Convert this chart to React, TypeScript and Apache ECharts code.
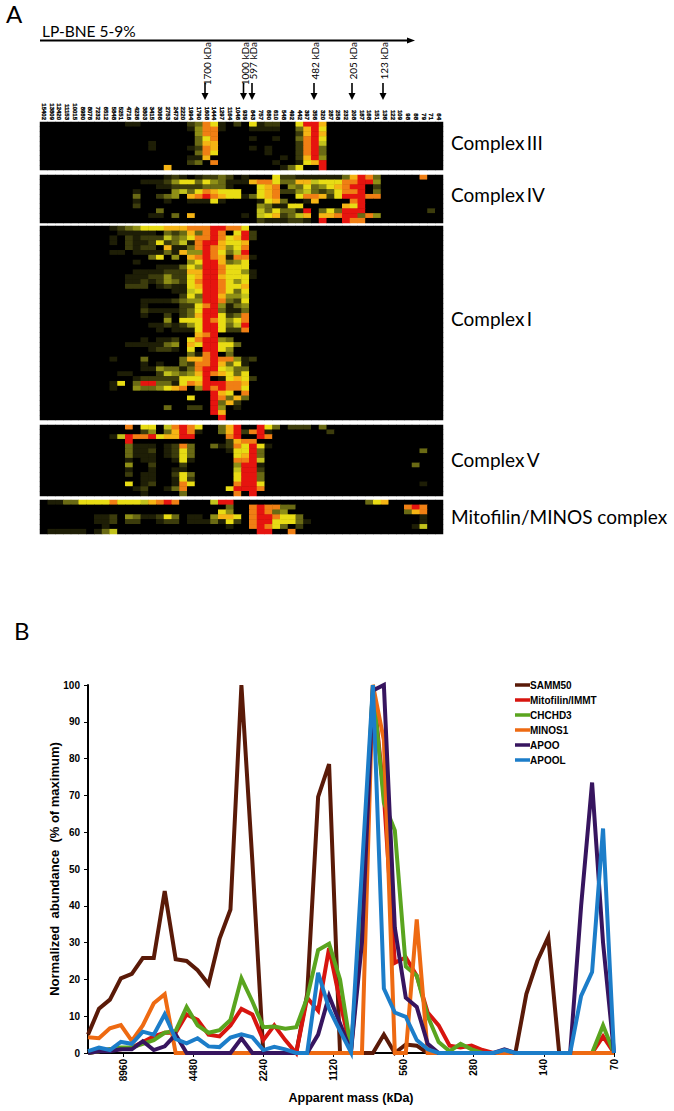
import React, { useEffect, useRef } from "react";
import * as echarts from "echarts";

const massColumns = ["15402","13809","12420","11153","10015","8980","8076","7232","6512","5848","5251","4716","4236","3803","3415","3066","2753","2473","2220","1994","1790","1608","1444","1297","1164","1046","939","843","757","680","610","548","492","442","397","356","320","287","258","232","208","187","168","151","136","122","109","98","88","79","71","64"];

// Heat levels 0-9 per row, written as "column:level" (unlisted cells are 0)
const complexIII = [
  "11:1 12:1 19:2 20:3 21:8 22:6 23:1 25:2 27:6 28:1 29:2 30:2 33:6 34:9 35:9 36:7",
  "19:1 20:4 21:8 22:8 23:1 27:1 28:1 29:1 30:1 33:3 34:7 35:9 36:6",
  "20:4 21:8 22:8 33:2 34:7 35:9 36:7",
  "20:3 21:6 22:8 27:1 30:1 33:3 34:8 35:9 36:6",
  "14:1 20:3 21:7 22:7 33:2 34:8 35:9 36:5",
  "14:1 19:1 20:2 21:8 22:7 27:1 29:1 33:2 34:8 35:9 36:3",
  "20:3 21:8 22:6 29:1 33:2 34:8 35:9 36:3",
  "19:1 20:1 21:7 31:1 33:2 34:7 35:9 36:4",
  "19:2 20:3 22:8 30:1 33:1 34:6 35:7 36:9",
  "16:7 31:1 32:3 33:6 36:9",
];
const complexIV = [
  "16:1 17:2 18:1 20:1 21:2 22:2 23:3 24:2 26:1 30:6 31:2 32:2 33:1 34:1 35:1 36:1 37:1 38:1 39:3 40:7 41:9 42:8 43:3 49:8",
  "13:1 14:1 15:1 16:2 17:4 18:6 19:6 20:3 21:6 22:4 23:3 24:1 25:1 26:1 27:7 28:8 29:8 30:6 31:3 32:3 33:7 34:7 35:5 36:6 37:6 38:6 39:8 40:8 41:9 42:9 43:4",
  "15:1 16:1 17:2 18:2 19:2 20:2 21:3 22:3 23:3 24:1 28:6 29:7 30:8 32:4 33:3 34:6 35:3 36:4 37:6 38:7 39:8 40:9 41:9 43:2",
  "12:1 17:4 18:5 19:3 20:6 21:8 22:7 23:6 24:6 25:6 28:6 29:7 30:8 31:2 32:2 33:4 34:5 35:3 36:2 37:3 38:6 39:8 40:8 41:9 43:3",
  "12:3 15:2 16:3 17:4 19:7 20:8 21:9 22:8 23:7 24:6 25:6 26:1 27:3 28:6 29:7 30:8 33:6 34:8 35:8 36:7 37:2 38:6 39:9 40:9 41:9 42:8 43:8",
  "12:1 16:1 19:1 20:1 21:1 22:6 23:1 28:1 29:6 30:7 31:3 34:1 35:7 40:8 41:9",
  "12:2 28:4 29:3 30:1 31:1 32:6 33:6 39:7 40:6 41:9",
  "15:3 28:5 29:3 30:6 31:3 32:3 33:1 34:9 36:3 37:6 38:3 39:9 40:9 41:9 50:2",
  "14:1 15:1 17:3 19:7 26:1 28:5 29:6 30:7 31:2 32:3 33:5 34:7 36:7 37:7 38:8 39:9 40:9 41:3 42:8 43:4",
  "28:2 29:1 30:1 31:1 32:2 33:2 34:1 36:9 39:9 40:8 41:8",
];
const complexI = [
  "9:1 10:2 11:3 12:4 13:6 14:6 15:6 16:7 17:7 18:7 19:8 20:8 21:8 22:9 23:9 24:8 25:8 26:6",
  "10:1 11:1 12:1 13:1 14:1 16:3 17:2 18:3 19:7 20:3 21:8 22:9 23:8 25:6 26:9 27:2",
  "9:1 11:2 12:1 13:2 14:2 15:2 16:5 17:3 18:4 19:6 20:8 21:8 22:9 23:8 24:6 25:7 26:9 27:2",
  "9:1 11:2 12:1 13:1 14:2 15:6 16:2 17:3 18:5 19:1 20:8 21:9 22:9 23:7 24:6 25:6 26:7",
  "11:2 12:1 13:2 14:2 16:7 17:1 18:1 19:3 20:8 21:9 22:8 23:7 24:4 25:6 26:8",
  "9:1 10:1 12:1 13:1 14:1 15:1 16:3 17:1 18:7 19:4 20:4 21:9 22:8 23:6 24:3 25:5 26:9",
  "14:3 15:6 17:4 19:7 20:8 21:9 22:8 23:7 24:1 25:8 26:8 27:1",
  "12:1 19:4 20:6 21:9 22:9 23:7 24:3 25:4 26:6",
  "15:1 16:1 17:1 18:3 19:6 20:4 21:9 22:9 23:8 24:6 25:6 26:6",
  "12:1 13:1 14:1 15:1 16:2 17:2 18:2 19:7 20:7 21:9 22:9 23:8 24:6 25:6 26:4 27:1",
  "11:1 12:1 13:1 14:2 15:2 16:4 17:2 18:2 19:6 20:7 21:9 22:9 23:7 24:6 25:6 26:6 27:1",
  "11:1 12:1 13:2 14:1 15:2 16:4 17:3 18:2 19:6 20:8 21:9 22:9 23:8 24:6 25:4 26:6",
  "11:2 12:2 13:2 15:1 16:2 17:1 18:1 19:6 20:7 21:9 22:9 23:8 24:6 25:6 26:7",
  "17:1 18:1 19:5 20:6 21:9 22:9 23:8 24:6 25:3 26:6",
  "18:2 19:6 20:3 21:9 22:9 23:7 24:4 25:4 26:5",
  "13:1 14:1 15:1 16:1 17:2 18:3 19:4 20:4 21:9 22:9 23:8 24:3 25:2 26:6",
  "13:1 18:2 19:2 20:6 21:8 22:9 23:4 24:1 25:3 26:4",
  "13:2 14:1 15:1 16:1 17:1 18:2 19:3 20:6 21:9 22:9 23:3 24:1 25:1 26:3",
  "13:1 16:2 18:2 19:3 20:7 21:9 22:9 23:6 24:2 25:3 26:8",
  "16:4 18:6 19:6 20:6 21:9 22:8 23:6 24:4 25:6 26:8",
  "14:1 15:1 16:2 17:1 18:2 19:4 20:6 21:9 22:9 23:6 24:3 25:5 26:9",
  "15:1 17:1 18:1 19:1 20:6 21:9 22:9 23:6 24:2 25:2 26:8",
  "20:7 21:8 22:9",
  "13:1 15:1 16:1 17:2 19:6 20:8 21:9 22:9 23:4 24:3",
  "11:1 12:1 13:1 14:1 15:1 16:3 17:4 19:7 20:6 21:9 22:9 23:6 24:6 25:3",
  "14:1 15:2 16:2 17:1 19:6 21:9 22:9 23:6 24:4",
  "19:3 20:1 21:8 22:9 24:3",
  "9:1 13:3 18:3 19:7 20:7 21:8 22:9 23:8 24:8 25:4 26:1 27:2",
  "13:1 15:1 18:3 19:2 20:8 21:8 22:9 23:7 24:3 25:6 26:1",
  "13:1 14:1 15:4 16:3 17:3 18:1 19:3 20:8 21:9 22:9 23:6 24:5 25:3 26:3",
  "10:1 11:1 15:2 16:5 17:4 18:3 19:4 20:7 21:9 22:8 23:7 24:6 25:3 26:6",
  "12:1 13:2 14:2 15:2 16:2 17:2 18:6 19:6 20:6 21:9 23:1 24:6 25:7 26:6 27:2",
  "9:1 10:6 12:3 13:9 14:9 15:3 16:3 17:1 18:6 19:8 20:7 21:9 22:9 23:9 24:8 25:8 26:7",
  "9:1 12:4 13:3 14:3 15:4 16:6 17:7 18:8 20:4 21:9 22:8 23:9 24:8 25:8 26:6",
  "22:9 23:7 24:6 26:8",
  "19:6 22:9 23:8 24:3 25:7 26:3",
  "22:9 23:3 24:7 25:2",
  "16:3 19:2 20:2 22:9 23:4 25:1",
  "22:9 23:7",
  "23:9",
];
const complexV = [
  "11:8 13:6 14:6 16:5 17:8 18:9 19:8 20:6 23:3 24:7 25:9 28:9 29:6 30:3 32:2 33:2 34:2 36:3",
  "13:2 14:4 16:3 17:7 18:9 19:8 20:1 23:3 24:7 25:9 26:2 27:8 28:9 29:1 37:2",
  "9:1 10:5 11:9 12:8 13:8 14:9 15:6 16:7 17:7 18:9 19:9 24:8 25:9 28:9 29:8",
  "11:9 24:2 25:7 26:8 27:8",
  "11:3 12:1 13:1 14:1 16:1 17:2 18:8 19:3 22:3 23:1 24:2 25:8 26:6 27:9 28:6 29:1",
  "11:3 12:1 13:1 14:2 16:1 17:2 18:6 19:3 24:1 25:6 26:6 27:9 28:3 49:3",
  "11:3 12:1 13:1 14:1 16:1 17:2 18:6 19:3 25:6 26:7 27:9 28:3",
  "11:1 13:1 14:1 17:1 18:6 19:1 25:8 26:8 27:9 28:5",
  "11:4 14:2 18:2 25:4 26:9 27:9 28:1 48:3",
  "11:1 14:1 17:1 18:1 25:5 26:9 27:9 28:2",
  "11:2 13:1 14:1 17:2 18:6 19:3 25:6 26:9 27:9 28:3",
  "13:1 14:1 17:1 18:6 19:2 25:6 26:9 27:9 28:3",
  "11:6 13:1 14:2 17:1 18:8 19:6 25:8 26:9 27:9 28:6 49:1",
  "12:1 13:2 16:1 17:3 18:8 24:6 25:9 26:9 27:9 28:8",
  "13:1 18:3 25:8 27:9",
];
const minosComplex = [
  "1:1 2:1 3:3 4:3 5:6 6:6 7:6 8:6 9:8 10:6 11:6 12:6 13:5 14:7 15:8 16:9 17:8 22:5 23:9 24:9 42:3 43:6 44:7",
  "24:3 27:8 28:9 29:8 30:8 31:3 32:3 47:8 48:9 49:8",
  "23:6 24:4 27:8 28:9 29:8 30:3 31:4 47:3 48:7 49:8",
  "7:1 8:1 9:2 11:4 12:3 13:1 14:1 15:2 16:6 17:3 19:1 20:1 22:4 23:7 24:7 25:6 27:8 28:9 29:9 30:8 31:6 32:6 33:3 49:1",
  "7:1 8:1 9:2 11:2 12:2 15:1 16:2 17:2 19:1 20:1 21:1 22:3 23:1 24:6 25:2 27:8 28:9 29:9 30:6 31:6 32:6 33:3 34:1 49:1",
  "8:1 24:1 27:8 28:9 29:8 30:6 31:3 33:2 48:1 49:5",
  "1:1 2:1 3:1 4:1 5:1 7:1 8:3 9:5 28:9 29:9 32:8",
];

const markerLabels = ["1700 kDa", "1000 kDa", "597 kDa", "482 kDa", "205 kDa", "123 kDa"];
const complexNames = ["Complex\u2009III", "Complex\u2009IV", "Complex\u2009I", "Complex\u2009V", "Mitofilin/MINOS complex"];

const tickMasses = ["70", "140", "280", "560", "1120", "2240", "4480", "8960"];
const samm50 = [5,12,14.5,20.3,21.5,25.8,25.8,44,25.5,25,22.5,18.7,31,39,100,52,0,0,0,0,16,69.6,78.5,0,0,0,0,5,0,2.3,2,0,0,0,0,0,0,0,0,0,16,25,31.5,0,0,0,0,0,0];
const mitofilin = [0,0.5,1,1,1.5,3,4.5,5.5,5.5,10.5,9,5,4.5,7.5,12,10.5,3.5,7.5,3.5,0,15,11.5,28.5,14,0.5,35,100,70,24.5,26,21,11,7.5,2,1.5,2,0.8,0,0,0,0,0,0,0,0,0,0,4.5,0];
const chchd3 = [0,0.5,1,1.5,1.5,2.5,3.5,5.5,6,12.5,7.5,5.5,6.2,9,20.3,14,7,7.2,6.6,7,15,28,29.7,20,1,40,100,68,60.5,23.5,21,10,3,0.5,2.5,1,0,0,0,0,0,0,0,0,0,0,0,7.5,0];
const minos1 = [4.3,4,6.7,7.6,3.3,7.5,13.5,16,0,0,0,0,0,0,0,0,0,0,0,0,0,0,0,0,0,0,100,85,0,0,36.3,0,0,0,0,0,0,0,0,0,0,0,0,0,0,0,0,0,0];
const apoo = [0,0.5,0.5,1,1,3.2,0.8,1.8,5,0,0,0,0,0,4,0,0,0,0,0,0,5,15.5,8,0.5,30,98.5,100,34,15,12.5,2.5,0,0,0,0,0,0,1,0,0,0,0,0,0,40,73.5,30,0];
const apool = [0.5,1.5,0.8,3,2.5,5.8,5,10.5,3.8,2.6,4,1.8,1.6,4.2,5.1,4.3,0.8,1.7,1,0,0,21.8,12,6,0.2,50,100,17.5,11,9.8,3.5,1,0,0,0,0,0,0,0.8,0,0,0,0,0,0,15.5,22,61,0];

const lineSeries: [string, number[], string][] = [
  ["SAMM50", samm50, "#5a1a08"],
  ["Mitofilin/IMMT", mitofilin, "#d7150f"],
  ["CHCHD3", chchd3, "#5aa51f"],
  ["MINOS1", minos1, "#ee6a12"],
  ["APOO", apoo, "#37155f"],
  ["APOOL", apool, "#1c7dc9"],
];

const heatColors = ["#000000","#1e1e06","#3c3c0c","#6a6a14","#8f8f16","#c2c21c","#e8dc14","#f5b414","#f07f14","#e6140f"];

function cells(rows: string[]) {
  const out: number[][] = [];
  rows.forEach((row, r) => {
    const levels = new Array(massColumns.length).fill(0);
    row.split(" ").forEach((pair) => {
      const [c, v] = pair.split(":").map(Number);
      levels[c] = v;
    });
    levels.forEach((v, c) => out.push([c, r, v]));
  });
  return out;
}

const SANS = "'Liberation Sans', Arial, sans-serif";
const HUMAN = "Lato, 'Open Sans', sans-serif";

export default function App() {
  const ref = useRef<HTMLDivElement>(null);
  useEffect(() => {
    const chart = echarts.init(ref.current!, null, { renderer: "svg" });
    const panels = [complexIII, complexIV, complexI, complexV, minosComplex];
    const tops = [122, 175, 226, 425, 500];
    const heights = [48, 48, 194, 71, 34];
    const labelY = [142, 194, 318, 459, 516];
    const markerX = [207, 245, 253, 315, 353, 384];
    const arrowX = [205, 243.5, 252, 314, 352, 383];

    const graphic: any[] = [
      { type: "text", x: 6, y: 1, style: { text: "A", font: `24px ${HUMAN}`, fill: "#000" } },
      { type: "text", x: 14, y: 618, style: { text: "B", font: `24px ${HUMAN}`, fill: "#000" } },
      { type: "text", x: 42, y: 23, style: { text: "LP-BNE 5-9%", font: `15.5px ${HUMAN}`, fill: "#000" } },
      { type: "line", shape: { x1: 40, y1: 40.5, x2: 408, y2: 40.5 }, style: { stroke: "#000", lineWidth: 2 } },
      { type: "polygon", shape: { points: [[407, 37.5], [415, 40.5], [407, 43.5]] }, style: { fill: "#000" } },
    ];
    markerLabels.forEach((text, i) => {
      graphic.push({
        type: "text", x: markerX[i], y: 42, rotation: Math.PI / 2,
        style: { text, font: `10px ${HUMAN}`, fill: "#000", align: "right", verticalAlign: "middle" },
      });
      graphic.push({ type: "line", shape: { x1: arrowX[i], y1: 83, x2: arrowX[i], y2: 95 }, style: { stroke: "#000", lineWidth: 1.6 } });
      graphic.push({ type: "polygon", shape: { points: [[arrowX[i] - 3.5, 93], [arrowX[i] + 3.5, 93], [arrowX[i], 100]] }, style: { fill: "#000" } });
    });
    complexNames.forEach((text, i) => {
      graphic.push({
        type: "text", x: 451, y: labelY[i],
        style: { text, font: `19px ${HUMAN}`, fill: "#000", align: "left", verticalAlign: "middle" },
      });
    });

    const grids: any[] = panels.map((_, i) => ({
      left: 40, width: 403, top: tops[i], height: heights[i], show: true, backgroundColor: "#000", borderWidth: 0,
    }));
    grids.push({ left: 88, width: 526, top: 685, height: 368 });

    const xAxes: any[] = panels.map((_, i) => ({
      type: "category", gridIndex: i, data: massColumns, position: "top",
      axisLine: { show: false }, axisTick: { show: false }, splitLine: { show: false },
      axisLabel: i === 0
        ? { show: true, interval: 0, rotate: 90, fontSize: 6, fontWeight: "bold", fontFamily: SANS, color: "#000", margin: 2, textBorderColor: "#000", textBorderWidth: 0.3 }
        : { show: false },
    }));
    xAxes.push({
      type: "value", gridIndex: 5, inverse: true, min: 0, max: 48, interval: 6.4,
      name: "Apparent mass (kDa)", nameLocation: "middle", nameGap: 38,
      nameTextStyle: { fontSize: 12.5, fontWeight: "bold", fontFamily: SANS, color: "#000" },
      axisLine: { lineStyle: { color: "#000", width: 2 } },
      axisTick: { length: 4, lineStyle: { color: "#000" } },
      splitLine: { show: false },
      axisLabel: {
        rotate: 90, fontSize: 10, fontWeight: "bold", fontFamily: SANS, color: "#000", margin: 6, showMaxLabel: false,
        formatter: (v: number) => tickMasses[Math.round(v / 6.4)] && Math.abs(v / 6.4 - Math.round(v / 6.4)) < 1e-6 ? tickMasses[Math.round(v / 6.4)] : "",
      },
    });

    const yAxes: any[] = panels.map((rows, i) => ({
      type: "category", gridIndex: i, inverse: true, data: rows.map((_, r) => r), show: false,
    }));
    yAxes.push({
      type: "value", gridIndex: 5, min: 0, max: 100, interval: 10, position: "left",
      name: "Normalized  abundance  (% of maximum)", nameLocation: "middle", nameGap: 27, nameMoveOverlap: false,
      nameTextStyle: { fontSize: 13, fontWeight: "bold", fontFamily: SANS, color: "#000" },
      axisLine: { show: true, onZero: false, lineStyle: { color: "#000", width: 2 } },
      axisTick: { show: true, length: 4, lineStyle: { color: "#000" } },
      splitLine: { show: false },
      axisLabel: { fontSize: 10, fontWeight: "bold", fontFamily: SANS, color: "#000", margin: 8 },
    });

    const series: any[] = panels.map((rows, i) => ({
      type: "heatmap", xAxisIndex: i, yAxisIndex: i, data: cells(rows), progressive: 0,
    }));
    lineSeries.forEach(([name, values, color]) => {
      series.push({
        type: "line", name, xAxisIndex: 5, yAxisIndex: 5, showSymbol: false, symbol: "none", clip: false,
        color, lineStyle: { color, width: 4, join: "miter" }, itemStyle: { color },
        data: values.map((v, i) => [values.length - 1 - i, v]),
      });
    });

    chart.setOption({
      animation: false,
      backgroundColor: "#fff",
      grid: grids,
      xAxis: xAxes,
      yAxis: yAxes,
      series,
      visualMap: {
        show: false, min: 0, max: 9, seriesIndex: [0, 1, 2, 3, 4], dimension: 2,
        inRange: { color: heatColors },
      },
      legend: {
        orient: "vertical", left: 515, top: 680, padding: 0, itemWidth: 15, itemHeight: 3.5, itemGap: 5, icon: "rect",
        data: lineSeries.map((s) => s[0]),
        textStyle: { fontSize: 10, fontWeight: "bold", fontFamily: SANS, color: "#000", padding: [0, 0, 0, -5] },
      },
      graphic,
    });
    return () => chart.dispose();
  }, []);
  return <div ref={ref} style={{ position: "absolute", left: 0, top: 0, width: 674, height: 1111 }} />;
}
